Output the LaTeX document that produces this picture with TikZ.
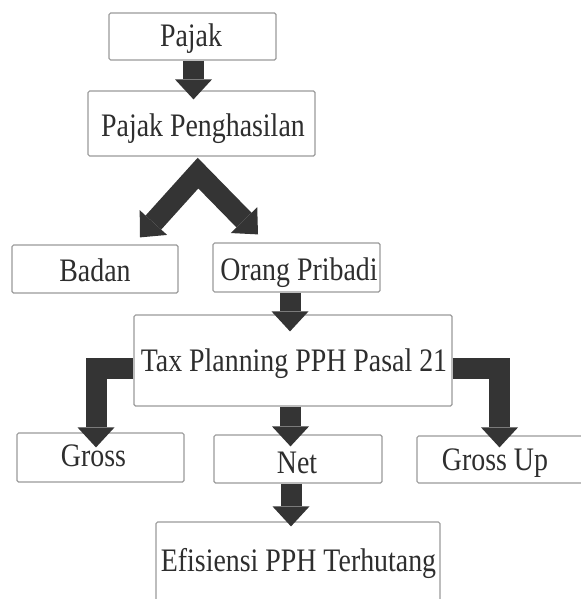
\documentclass[tikz,border=0pt]{standalone}
\usepackage{fontspec}
\setmainfont{Liberation Serif}[FakeStretch=0.85]
\usetikzlibrary{arrows.meta,fit,calc}
\definecolor{arrowc}{HTML}{343434}
\definecolor{boxc}{HTML}{9A9A9A}
\definecolor{txtc}{HTML}{2E2E2E}
\begin{document}
\begin{tikzpicture}[x=0.75pt,y=-0.75pt,
  box/.style={draw=boxc, line width=0.9pt, rounded corners=1.2pt, inner sep=0pt, fill=white},
  lbl/.style={inner sep=0pt, anchor=base, text=txtc, font=\fontsize{24.6pt}{29pt}\selectfont},
  blk/.style={draw=arrowc, line width=15.75pt, line join=miter, line cap=butt,
    -{Triangle[length=15pt,width=27.75pt,line width=0pt]}},
  blkboth/.style={draw=arrowc, line width=15.75pt, line join=miter, line cap=butt,
    {Triangle[length=15pt,width=27.75pt,line width=0pt]}-{Triangle[length=15pt,width=27.75pt,line width=0pt]}},
]
\useasboundingbox (0,0) rectangle (581,599);
% boxes
\node[box, fit={(109,13) (276,60)}] (pajak) {};
\node[box, fit={(88,91) (315,156)}] (pp) {};
\node[box, fit={(12,245) (178,293)}] (badan) {};
\node[box, fit={(213,243) (380,292)}] (orang) {};
\node[box, fit={(134,315) (452,406)}] (tax) {};
\node[box, fit={(17,433) (184,482)}] (gross) {};
\node[box, fit={(214,435) (382,483)}] (net) {};
\node[box, fit={(417,436) (590,483)}] (grossup) {};
\node[box, fit={(156,522) (440,610)}] (ef) {};
% texts
\node[lbl] (tpajak) at (191,47) {Pajak};
\node[lbl] (tpp) at (203,137) {Pajak Penghasilan};
\node[lbl] (tbadan) at (95,281.5) {Badan};
\node[lbl] (torang) at (299,280) {Orang Pribadi};
\node[lbl] (ttax) at (294,371.5) {Tax Planning PPH Pasal 21};
\node[lbl] (tgross) at (93.5,466.5) {Gross};
\node[lbl] (tnet) at (297,473) {Net};
\node[lbl] (tgrossup) at (495,470.5) {Gross Up};
\node[lbl] (tef) at (298.5,571.5) {Efisiensi PPH Terhutang};
% arrows
\draw[blk] ($(pajak.south)+(1,0)$) -- ($(pajak.south |- pp.north)+(1,9)$);
\coordinate (apex) at ($(pp.south)+(-3.5,16.5)$);
\draw[blkboth] ($(badan.north)+(45,-7)$) -- (apex) -- ($(orang.north)+(-38.5,-8)$);
\draw[blk] ($(orang.south)+(-6.5,0)$) -- ($(orang.south |- tax.north)+(-6.5,17)$);
\draw[blk] ([yshift=-5.625pt]tax.west) -| ($(gross.north)+(-4.5,15)$);
\draw[blk] ($(tax.south)+(-2.5,0)$) -- ($(tax.south |- net.north)+(-2.5,12)$);
\draw[blk] ([yshift=-5.625pt]tax.east) -| ($(grossup.north)+(-4,12)$);
\draw[blk] ($(net.south)+(-7,0)$) -- ($(net.south |- ef.north)+(-7,5)$);
\end{tikzpicture}
\end{document}
